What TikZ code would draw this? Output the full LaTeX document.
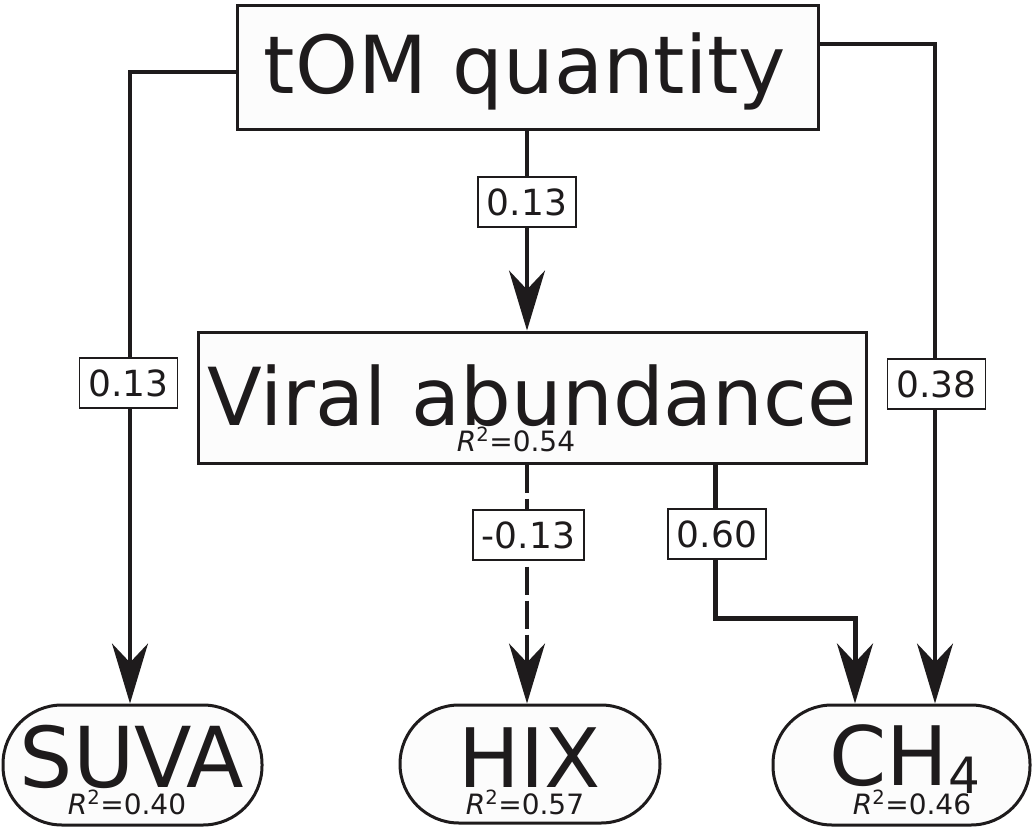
\documentclass[tikz,border=0pt]{standalone}
\usepackage{fontspec}
\setmainfont{DejaVu Sans}
\usetikzlibrary{arrows.meta,calc}
\definecolor{ink}{HTML}{1E1B1C}
\definecolor{boxfill}{HTML}{FCFCFC}
\begin{document}
\begin{tikzpicture}[x=1pt,y=-1pt,
  box/.style={draw=ink, fill=boxfill, line width=3pt, inner sep=0pt},
  pill/.style={draw=ink, fill=boxfill, line width=3pt, rounded corners=59pt, inner sep=0pt},
  bigtxt/.style={text=ink, inner sep=0pt, text depth=0pt, font=\fontsize{80}{90}\selectfont},
  rtxt/.style={text=ink, inner sep=0pt, text height=14pt, text depth=0pt, font=\fontsize{28}{30}\selectfont},
  lab/.style={draw=ink, fill=white, text=ink, line width=1.6pt, inner xsep=9pt, inner ysep=0pt, minimum height=50pt, font=\fontsize{36}{40}\selectfont},
  edge/.style={draw=ink, line width=3.2pt, -{Stealth[length=60pt,width=36pt,inset=19pt]}},
  dashedge/.style={dash pattern=on 28pt off 6pt},
  thickedge/.style={line width=5pt}
]
\useasboundingbox (0,0) rectangle (1034,827);

% main shapes
\node[box, minimum width=581pt, minimum height=124pt] (tom) at (527.5,67) {};
\node[box, minimum width=668pt, minimum height=131pt] (viral) at (532,397.5) {};
\node[pill, minimum width=259pt, minimum height=120pt] (suva) at (132.5,765) {};
\node[pill, minimum width=260pt, minimum height=118pt] (hix) at (530,764) {};
\node[pill, minimum width=257pt, minimum height=120pt] (ch4) at (901.5,765) {};

% texts
\node[bigtxt, anchor=base] (tomt) at (525,93) {tOM quantity};
\node[bigtxt, anchor=base] (viralt) at (532,425) {Viral abundance};
\node[rtxt, anchor=base] (viralr) at (516,451) {\textit{R}\textsuperscript{2}=0.54};
\node[bigtxt, anchor=base, font=\fontsize{84}{90}\selectfont] (suvat) at (132,787) {SUVA};
\node[rtxt, anchor=base] (suvar) at (127,814) {\textit{R}\textsuperscript{2}=0.40};
\node[bigtxt, anchor=base, font=\fontsize{82}{90}\selectfont] (hixt) at (530,787) {HIX};
\node[rtxt, anchor=base] (hixr) at (525,814) {\textit{R}\textsuperscript{2}=0.57};
\node[bigtxt, anchor=base, font=\fontsize{82}{90}\selectfont] (ch4t) at (905,785) {CH\raisebox{-0.1em}{\fontsize{50}{50}\selectfont 4}};
\node[rtxt, anchor=base] (ch4r) at (912,814) {\textit{R}\textsuperscript{2}=0.46};

% connectors
\draw[edge] (tom.south -| 527,0) -- (viral.north -| 527,0);
\draw[edge] ([yshift=-5pt]tom.west) -| ($(suva.north)+(-2.5,0)$);
\draw[edge] ([yshift=23pt]tom.east) -| ($(ch4.north)+(33.5,0)$);
\draw[edge, dashedge] ($(viral.south)+(-5,0)$) -- ($(hix.north)+(-3,0)$);
\draw[edge, thickedge] ($(viral.south)+(183,0)$) |- ($(ch4.north)+(-46.5,-85)$) -- ($(ch4.north)+(-46.5,0)$);

% labels
\node[lab] (l1) at (527,202) {0.13};
\node[lab] (l2) at (128.5,383) {0.13};
\node[lab] (l3) at (936.5,384) {0.38};
\node[lab] (l4) at (528.5,535) {-0.13};
\node[lab] (l5) at (717,534) {0.60};
\end{tikzpicture}
\end{document}
